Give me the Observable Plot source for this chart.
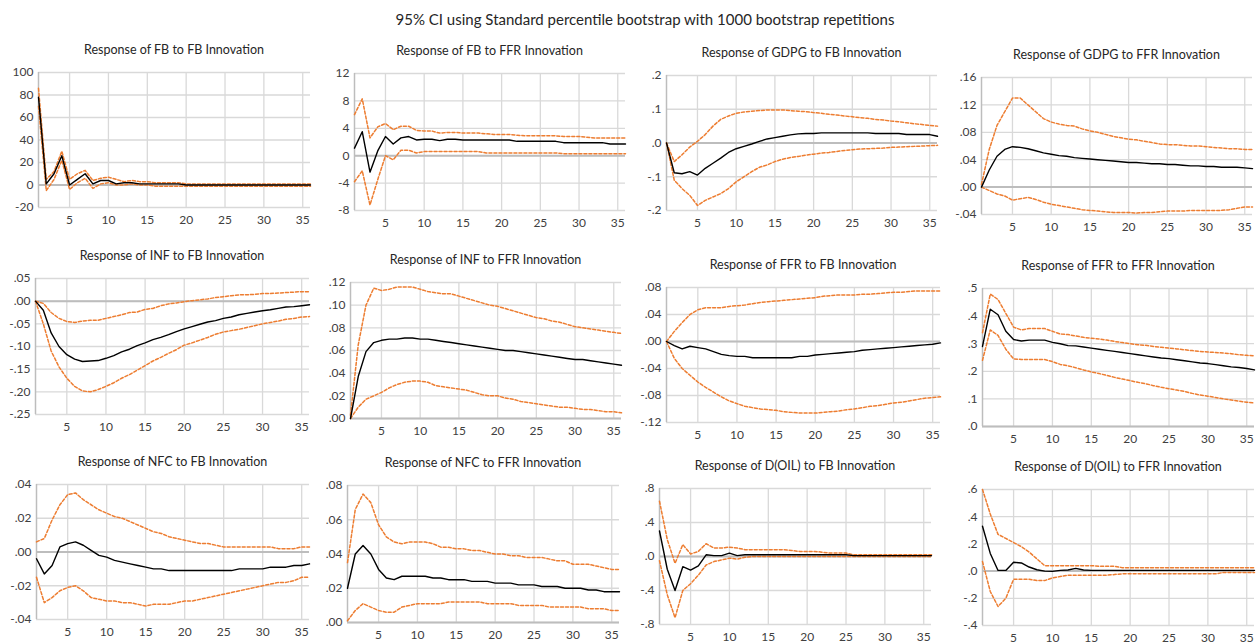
<!DOCTYPE html>
<html><head><meta charset="utf-8">
<script src="https://cdn.jsdelivr.net/npm/d3@7"></script>
<script src="https://cdn.jsdelivr.net/npm/@observablehq/plot@0.6"></script>
<style>
body{margin:0;background:#fff;}
#wrap{position:relative;width:1256px;height:644px;overflow:hidden;font-family:Lato,"Open Sans",sans-serif;}
.ttl{position:absolute;white-space:nowrap;transform:translate(-50%,-50%);color:#262626;font-size:12.5px;}
#main{position:absolute;left:645px;top:19px;transform:translate(-50%,-50%);font-size:15px;color:#262626;white-space:nowrap;}
</style></head>
<body><div id="wrap"><div id="main">95% CI using Standard percentile bootstrap with 1000 bootstrap repetitions</div></div>
<script>
const periods = [1,2,3,4,5,6,7,8,9,10,11,12,13,14,15,16,17,18,19,20,21,22,23,24,25,26,27,28,29,30,31,32,33,34,35,36];
const xTicks = [5,10,15,20,25,30,35];

const titles = [
 "Response of FB to FB Innovation","Response of FB to FFR Innovation","Response of GDPG to FB Innovation","Response of GDPG to FFR Innovation",
 "Response of INF to FB Innovation","Response of INF to FFR Innovation","Response of FFR to FB Innovation","Response of FFR to FFR Innovation",
 "Response of NFC to FB Innovation","Response of NFC to FFR Innovation","Response of D(OIL) to FB Innovation","Response of D(OIL) to FFR Innovation"
];

const yTicks1 = [-20,0,20,40,60,80,100];
const yTicks2 = [-8,-4,0,4,8,12];
const yTicks3 = [-0.2,-0.1,0,0.1,0.2];
const yTicks4 = [-0.04,0,0.04,0.08,0.12,0.16];
const yTicks5 = [-0.25,-0.2,-0.15,-0.1,-0.05,0,0.05];
const yTicks6 = [0,0.02,0.04,0.06,0.08,0.1,0.12];
const yTicks7 = [-0.12,-0.08,-0.04,0,0.04,0.08];
const yTicks8 = [0,0.1,0.2,0.3,0.4,0.5];
const yTicks9 = [-0.04,-0.02,0,0.02,0.04];
const yTicks10 = [0,0.02,0.04,0.06,0.08];
const yTicks11 = [-0.8,-0.4,0,0.4,0.8];
const yTicks12 = [-0.4,-0.2,0,0.2,0.4,0.6];
const tickDecimals = [0,0,1,2,2,2,2,1,2,2,1,1];

// 1 FB to FB
const fbFbResp  = [78,1,10,26,0,5,10,1,4,4,1,2,2,1,1,1,1,1,1,0,0,0,0,0,0,0,0,0,0,0,0,0,0,0,0,0];
const fbFbUpper = [86,5,12,30,5,10,13,4,6,7,5,3,4,3,3,2,2,2,2,1,1,1,1,1,1,1,1,1,1,1,1,1,1,1,1,1];
const fbFbLower = [70,-5,5,22,-4,2,6,-3,1,2,0,0,1,0,0,-1,-1,-1,-1,-1,-1,-1,-1,-1,-1,-1,-1,-1,-1,-1,-1,-1,-1,-1,-1,-1];
// 2 FB to FFR
const fbFfrResp  = [1.1,3.5,-2.4,0.7,2.8,1.7,2.6,2.8,2.3,2.4,2.4,2.2,2.4,2.4,2.3,2.3,2.3,2.3,2.3,2.3,2.3,2.1,2.1,2.1,2.1,2.1,2.1,1.9,1.9,1.9,1.9,1.9,1.9,1.7,1.7,1.7];
const fbFfrUpper = [6,8.3,2.6,4.2,4.7,3.8,4.3,4.3,3.7,3.6,3.6,3.3,3.4,3.4,3.3,3.3,3.3,3.2,3.1,3.1,3.1,3.0,2.9,2.9,2.9,2.9,2.9,2.8,2.8,2.8,2.7,2.6,2.6,2.6,2.6,2.6];
const fbFfrLower = [-3.8,-2.2,-7.2,-3.5,0,-0.6,0.8,0.8,0.4,0.6,0.6,0.6,0.6,0.6,0.6,0.6,0.6,0.4,0.4,0.4,0.4,0.4,0.4,0.4,0.4,0.4,0.4,0.3,0.3,0.3,0.3,0.3,0.3,0.3,0.3,0.3];
// 3 GDPG to FB
const gdpgFbResp  = [0,-0.088,-0.091,-0.085,-0.095,-0.075,-0.06,-0.045,-0.028,-0.017,-0.01,-0.003,0.005,0.012,0.016,0.02,0.024,0.027,0.028,0.028,0.03,0.03,0.03,0.03,0.03,0.03,0.03,0.028,0.028,0.028,0.028,0.025,0.025,0.025,0.025,0.02];
const gdpgFbUpper = [0,-0.055,-0.035,-0.012,0.005,0.025,0.05,0.07,0.08,0.088,0.092,0.094,0.096,0.098,0.098,0.098,0.096,0.094,0.093,0.09,0.088,0.085,0.083,0.08,0.078,0.075,0.073,0.07,0.068,0.065,0.063,0.06,0.057,0.055,0.052,0.05];
const gdpgFbLower = [0,-0.11,-0.135,-0.155,-0.185,-0.17,-0.16,-0.15,-0.135,-0.115,-0.1,-0.085,-0.072,-0.065,-0.055,-0.048,-0.043,-0.04,-0.036,-0.033,-0.03,-0.028,-0.025,-0.022,-0.02,-0.018,-0.017,-0.016,-0.015,-0.013,-0.012,-0.011,-0.01,-0.009,-0.008,-0.007];
// 4 GDPG to FFR
const gdpgFfrResp  = [0,0.025,0.045,0.055,0.059,0.058,0.056,0.053,0.05,0.048,0.046,0.045,0.043,0.042,0.041,0.04,0.039,0.038,0.037,0.036,0.036,0.035,0.034,0.034,0.033,0.033,0.032,0.031,0.031,0.03,0.03,0.029,0.029,0.029,0.028,0.027];
const gdpgFfrUpper = [0.004,0.055,0.09,0.11,0.13,0.13,0.12,0.11,0.1,0.095,0.092,0.09,0.089,0.085,0.082,0.08,0.077,0.074,0.072,0.07,0.069,0.067,0.065,0.063,0.062,0.062,0.061,0.06,0.06,0.059,0.058,0.057,0.056,0.056,0.055,0.055];
const gdpgFfrLower = [0,-0.005,-0.01,-0.013,-0.019,-0.017,-0.015,-0.018,-0.022,-0.025,-0.027,-0.029,-0.031,-0.033,-0.034,-0.035,-0.036,-0.037,-0.037,-0.037,-0.038,-0.037,-0.037,-0.036,-0.035,-0.035,-0.035,-0.034,-0.034,-0.034,-0.034,-0.034,-0.033,-0.031,-0.029,-0.029];
// 5 INF to FB
const infFbResp  = [0,-0.02,-0.07,-0.1,-0.118,-0.128,-0.133,-0.132,-0.131,-0.126,-0.12,-0.112,-0.106,-0.098,-0.092,-0.085,-0.08,-0.074,-0.067,-0.061,-0.056,-0.051,-0.046,-0.043,-0.038,-0.035,-0.03,-0.027,-0.024,-0.021,-0.019,-0.016,-0.013,-0.012,-0.01,-0.008];
const infFbUpper = [0,-0.005,-0.025,-0.038,-0.045,-0.047,-0.044,-0.042,-0.042,-0.038,-0.034,-0.03,-0.025,-0.024,-0.018,-0.016,-0.01,-0.006,-0.004,-0.001,0.001,0.003,0.005,0.008,0.01,0.012,0.014,0.014,0.015,0.017,0.017,0.018,0.019,0.02,0.021,0.021];
const infFbLower = [0,-0.05,-0.11,-0.145,-0.17,-0.188,-0.198,-0.2,-0.195,-0.188,-0.18,-0.17,-0.162,-0.152,-0.142,-0.132,-0.124,-0.115,-0.107,-0.097,-0.092,-0.086,-0.08,-0.073,-0.068,-0.065,-0.062,-0.058,-0.054,-0.05,-0.047,-0.044,-0.04,-0.038,-0.035,-0.034];
// 6 INF to FFR
const infFfrResp  = [0,0.037,0.059,0.067,0.069,0.07,0.07,0.071,0.071,0.07,0.07,0.069,0.068,0.067,0.066,0.065,0.064,0.063,0.062,0.061,0.06,0.06,0.059,0.058,0.057,0.056,0.055,0.054,0.053,0.052,0.052,0.051,0.05,0.049,0.048,0.047];
const infFfrUpper = [0.003,0.065,0.1,0.115,0.113,0.114,0.116,0.116,0.116,0.114,0.112,0.111,0.11,0.11,0.108,0.106,0.104,0.102,0.1,0.099,0.097,0.095,0.093,0.091,0.089,0.088,0.086,0.085,0.083,0.081,0.08,0.079,0.078,0.077,0.076,0.075];
const infFfrLower = [0,0.01,0.017,0.02,0.023,0.027,0.03,0.032,0.033,0.033,0.032,0.029,0.028,0.027,0.026,0.025,0.023,0.021,0.02,0.02,0.018,0.017,0.015,0.014,0.013,0.012,0.011,0.01,0.01,0.009,0.008,0.008,0.007,0.006,0.006,0.005];
// 7 FFR to FB
const ffrFbResp  = [0,-0.006,-0.011,-0.007,-0.009,-0.011,-0.015,-0.019,-0.021,-0.022,-0.022,-0.024,-0.024,-0.024,-0.024,-0.024,-0.024,-0.022,-0.022,-0.02,-0.019,-0.018,-0.017,-0.016,-0.015,-0.013,-0.012,-0.011,-0.01,-0.009,-0.008,-0.007,-0.006,-0.005,-0.004,-0.002];
const ffrFbUpper = [0,0.015,0.028,0.04,0.047,0.05,0.05,0.05,0.052,0.053,0.054,0.056,0.058,0.059,0.06,0.061,0.062,0.063,0.064,0.065,0.067,0.068,0.069,0.069,0.069,0.07,0.07,0.071,0.072,0.073,0.073,0.074,0.075,0.075,0.075,0.075];
const ffrFbLower = [0,-0.025,-0.04,-0.05,-0.06,-0.068,-0.075,-0.082,-0.088,-0.092,-0.096,-0.098,-0.1,-0.101,-0.102,-0.104,-0.105,-0.106,-0.106,-0.106,-0.105,-0.104,-0.103,-0.101,-0.1,-0.098,-0.096,-0.095,-0.093,-0.091,-0.09,-0.088,-0.086,-0.084,-0.083,-0.082];
// 8 FFR to FFR
const ffrFfrResp  = [0.29,0.425,0.405,0.345,0.315,0.31,0.313,0.313,0.313,0.305,0.3,0.293,0.292,0.288,0.284,0.28,0.276,0.272,0.268,0.264,0.26,0.256,0.252,0.248,0.246,0.242,0.238,0.234,0.23,0.228,0.224,0.22,0.216,0.214,0.21,0.205];
const ffrFfrUpper = [0.34,0.48,0.46,0.41,0.36,0.35,0.355,0.355,0.355,0.345,0.335,0.333,0.328,0.323,0.32,0.317,0.313,0.308,0.304,0.3,0.296,0.294,0.29,0.287,0.284,0.281,0.278,0.275,0.272,0.27,0.268,0.266,0.264,0.26,0.258,0.256];
const ffrFfrLower = [0.24,0.35,0.33,0.28,0.245,0.243,0.243,0.243,0.243,0.235,0.225,0.22,0.213,0.205,0.198,0.192,0.185,0.178,0.172,0.166,0.16,0.155,0.148,0.142,0.137,0.132,0.127,0.12,0.114,0.11,0.105,0.1,0.096,0.092,0.088,0.085];
// 9 NFC to FB
const nfcFbResp  = [-0.004,-0.013,-0.008,0.003,0.005,0.006,0.004,0.001,-0.002,-0.003,-0.005,-0.006,-0.007,-0.008,-0.009,-0.01,-0.01,-0.011,-0.011,-0.011,-0.011,-0.011,-0.011,-0.011,-0.011,-0.011,-0.01,-0.01,-0.01,-0.01,-0.009,-0.009,-0.009,-0.008,-0.008,-0.007];
const nfcFbUpper = [0.006,0.008,0.019,0.028,0.034,0.035,0.031,0.028,0.025,0.023,0.021,0.02,0.018,0.016,0.014,0.012,0.011,0.009,0.008,0.007,0.006,0.005,0.005,0.004,0.003,0.003,0.003,0.003,0.003,0.003,0.003,0.002,0.002,0.002,0.003,0.003];
const nfcFbLower = [-0.015,-0.03,-0.027,-0.023,-0.021,-0.02,-0.023,-0.027,-0.028,-0.029,-0.029,-0.03,-0.03,-0.031,-0.032,-0.031,-0.031,-0.031,-0.03,-0.029,-0.029,-0.028,-0.027,-0.026,-0.025,-0.024,-0.023,-0.022,-0.021,-0.02,-0.019,-0.018,-0.018,-0.017,-0.015,-0.015];
// 10 NFC to FFR
const nfcFfrResp  = [0.02,0.04,0.045,0.04,0.031,0.026,0.025,0.027,0.027,0.027,0.027,0.026,0.026,0.025,0.025,0.025,0.024,0.024,0.024,0.023,0.023,0.023,0.022,0.022,0.022,0.021,0.021,0.021,0.02,0.02,0.02,0.019,0.019,0.018,0.018,0.018];
const nfcFfrUpper = [0.035,0.066,0.075,0.07,0.057,0.05,0.047,0.046,0.047,0.047,0.047,0.046,0.044,0.044,0.043,0.043,0.042,0.042,0.041,0.04,0.04,0.039,0.039,0.038,0.038,0.038,0.037,0.036,0.036,0.034,0.034,0.034,0.033,0.032,0.031,0.031];
const nfcFfrLower = [0.001,0.007,0.011,0.009,0.007,0.006,0.006,0.009,0.01,0.011,0.011,0.011,0.011,0.012,0.012,0.012,0.012,0.012,0.011,0.011,0.011,0.011,0.01,0.01,0.01,0.01,0.009,0.009,0.009,0.009,0.009,0.008,0.008,0.008,0.007,0.007];
// 11 D(OIL) to FB
const oilFbResp  = [0.3,-0.15,-0.4,-0.12,-0.16,-0.11,0.02,0.01,0.01,0.04,0.01,0.02,0.02,0.02,0.02,0.02,0.02,0.02,0.02,0.02,0.02,0.02,0.02,0.02,0.02,0.01,0.01,0.01,0.01,0.01,0.01,0.01,0.01,0.01,0.01,0.01];
const oilFbUpper = [0.65,0.2,-0.08,0.14,0.03,0.06,0.15,0.1,0.1,0.11,0.1,0.08,0.08,0.08,0.08,0.08,0.08,0.07,0.06,0.06,0.06,0.05,0.04,0.04,0.04,0.02,0.02,0.02,0.02,0.02,0.02,0.02,0.02,0.02,0.02,0.02];
const oilFbLower = [-0.05,-0.45,-0.72,-0.4,-0.32,-0.22,-0.1,-0.06,-0.04,-0.02,-0.03,-0.01,0,0,0,0,0,0,0,0,0,0,0,0,0,0,0,0,0,0,0,0,0,0,0,0];
// 12 D(OIL) to FFR
const oilFfrResp  = [0.33,0.13,0.005,0.005,0.065,0.06,0.03,0.01,0,-0.002,0.005,0.008,0.02,0.008,0.005,0.005,0.005,0.005,0.005,0.005,0.005,0.005,0.005,0.005,0.005,0.005,0.005,0.005,0.005,0.005,0.005,0.005,0.005,0.005,0.005,0.005];
const oilFfrUpper = [0.6,0.42,0.27,0.24,0.21,0.18,0.14,0.09,0.04,0.04,0.04,0.04,0.04,0.04,0.04,0.035,0.035,0.035,0.025,0.025,0.025,0.025,0.025,0.025,0.025,0.025,0.025,0.025,0.025,0.025,0.025,0.025,0.025,0.025,0.025,0.025];
const oilFfrLower = [0.07,-0.15,-0.26,-0.2,-0.06,-0.06,-0.06,-0.07,-0.07,-0.05,-0.04,-0.03,-0.03,-0.03,-0.03,-0.03,-0.03,-0.025,-0.02,-0.02,-0.02,-0.02,-0.02,-0.02,-0.02,-0.02,-0.02,-0.02,-0.02,-0.02,-0.02,-0.01,-0.01,-0.01,-0.01,-0.01];

const series = [
 [fbFbResp,fbFbUpper,fbFbLower,yTicks1],[fbFfrResp,fbFfrUpper,fbFfrLower,yTicks2],
 [gdpgFbResp,gdpgFbUpper,gdpgFbLower,yTicks3],[gdpgFfrResp,gdpgFfrUpper,gdpgFfrLower,yTicks4],
 [infFbResp,infFbUpper,infFbLower,yTicks5],[infFfrResp,infFfrUpper,infFfrLower,yTicks6],
 [ffrFbResp,ffrFbUpper,ffrFbLower,yTicks7],[ffrFfrResp,ffrFfrUpper,ffrFfrLower,yTicks8],
 [nfcFbResp,nfcFbUpper,nfcFbLower,yTicks9],[nfcFfrResp,nfcFfrUpper,nfcFfrLower,yTicks10],
 [oilFbResp,oilFbUpper,oilFbLower,yTicks11],[oilFfrResp,oilFfrUpper,oilFfrLower,yTicks12]
];

// layout: plot frame in page pixels
const frames = [
 {l:38,r:310,t:72,b:207},{l:354,r:625,t:73,b:210},{l:666,r:937,t:75,b:210},{l:981,r:1252,t:77,b:214},
 {l:35,r:309,t:278,b:414},{l:350,r:621,t:282,b:418},{l:666,r:940,t:287,b:422},{l:982,r:1254,t:288,b:426},
 {l:36,r:309,t:484,b:619},{l:347,r:619,t:485,b:622},{l:659,r:931,t:488,b:624},{l:982,r:1254,t:489,b:625}
];

const wrap = document.getElementById("wrap");
const ML=42, MR=3, MT=8, MB=26;

series.forEach(([resp, up, lo, ticks], i) => {
  const f = frames[i];
  const dec = tickDecimals[i];
  const fmt = v => {
    const s = Math.abs(v).toFixed(dec).replace(/^0(?=\.)/, "");
    return (v < -1e-12 ? "-" : "") + s;
  };
  const rows = periods.map((p, k) => ({p, m: resp[k], u: up[k], d: lo[k]}));
  const svg = Plot.plot({
    width: (f.r - f.l) + ML + MR,
    height: (f.b - f.t) + MT + MB,
    marginLeft: ML, marginRight: MR, marginTop: MT, marginBottom: MB,
    x: {domain: [1, 36]},
    y: {domain: [ticks[0], ticks[ticks.length - 1]]},
    style: {fontFamily: "Lato, 'Open Sans', sans-serif", fontSize: "12px", color: "#404040", background: "transparent", overflow: "visible"},
    marks: [
      Plot.gridX(xTicks, {stroke: "#d9d9d9", strokeOpacity: 1, strokeWidth: 1.3}),
      Plot.gridY(ticks, {stroke: "#d9d9d9", strokeOpacity: 1, strokeWidth: 1.3}),
      Plot.ruleY([0], {stroke: "#bdbdbd", strokeWidth: 2}),
      Plot.ruleX([1], {stroke: "#bdbdbd", strokeWidth: 1.5}),
      Plot.axisY(ticks, {tickSize: 0, tickPadding: 5, tickFormat: fmt, label: null, fontSize: 12}),
      Plot.axisX(xTicks, {tickSize: 0, tickPadding: 8, label: null, fontSize: 12}),
      Plot.lineY(rows, {x: "p", y: "u", stroke: "#ED7D31", strokeWidth: 1.5, strokeDasharray: "3,2"}),
      Plot.lineY(rows, {x: "p", y: "d", stroke: "#ED7D31", strokeWidth: 1.5, strokeDasharray: "3,2"}),
      Plot.lineY(rows, {x: "p", y: "m", stroke: "#000", strokeWidth: 1.4})
    ]
  });
  svg.style.position = "absolute";
  svg.style.left = (f.l - ML) + "px";
  svg.style.top = (f.t - MT) + "px";
  wrap.appendChild(svg);
  const t = document.createElement("div");
  t.className = "ttl";
  t.textContent = titles[i];
  t.style.left = ((f.l + f.r) / 2) + "px";
  t.style.top = (f.t - 23) + "px";
  wrap.appendChild(t);
});
</script></body></html>
